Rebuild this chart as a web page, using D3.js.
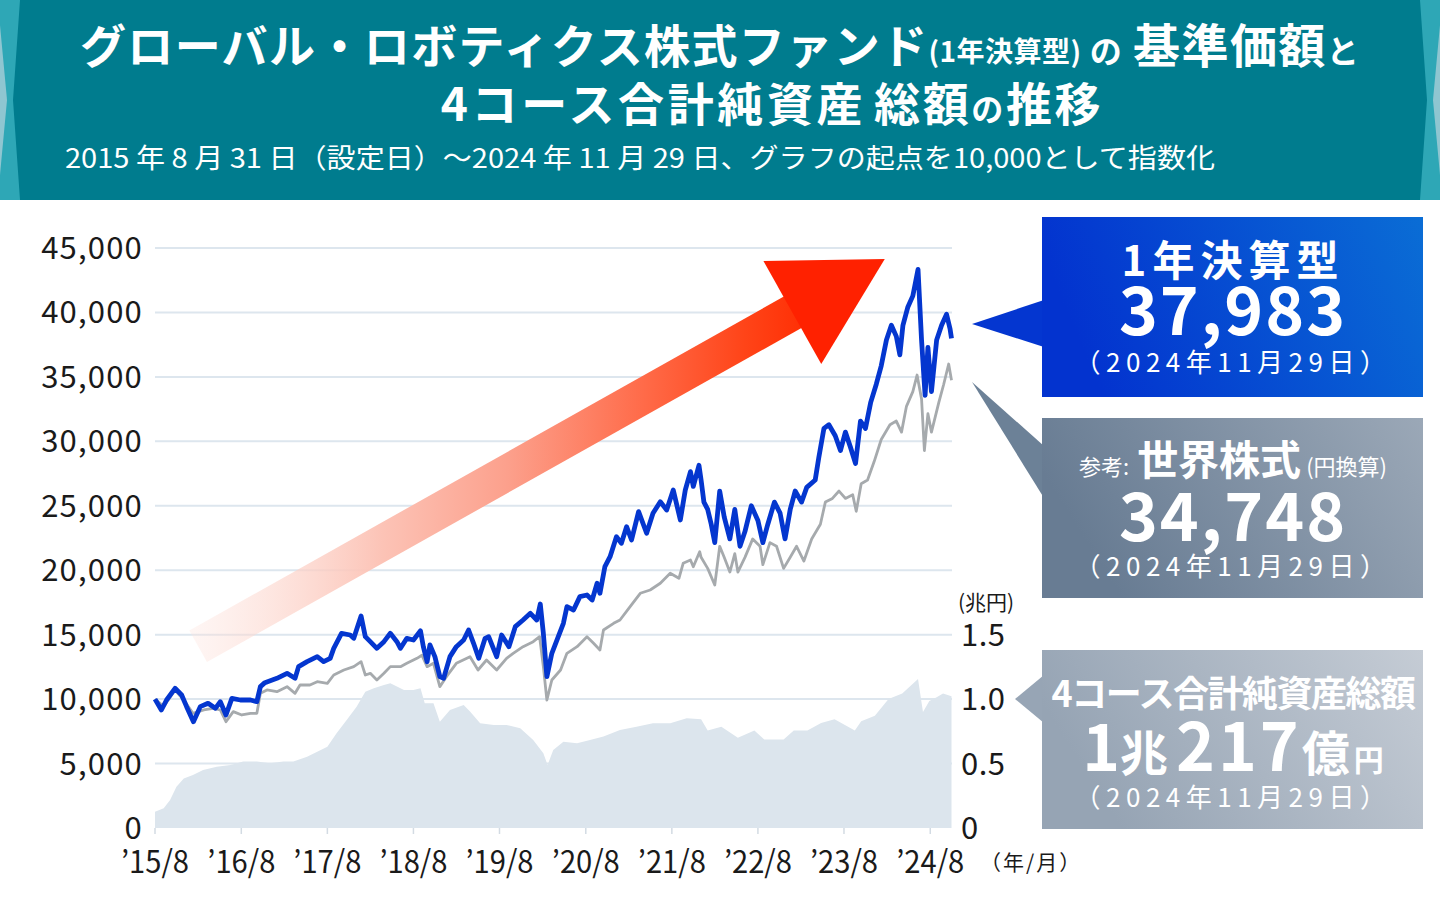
<!DOCTYPE html>
<html><head><meta charset="utf-8">
<script src="https://cdn.jsdelivr.net/npm/d3@7"></script>
<style>
html,body{margin:0;padding:0;background:#fff;}
svg{display:block;}
text{font-family:"Noto Sans CJK JP","Noto Sans",sans-serif;}
</style></head><body>
<svg id="chart" width="1440" height="900"></svg>
<script>
// ---------------- DATA ----------------
// month offsets from the launch date (2015-08-31)
const fundMonths = [0,0.9,1.6,2.8,3.7,4.4,5.35,6.3,7.4,8.4,9.1,9.9,10.7,11.9,13.3,14.2,14.7,15.3,17,18.4,19.5,20,21.2,22.6,23.5,24.4,24.9,26,27.2,27.7,28.7,29.3,30,30.9,31.9,32.8,33.7,34.2,35.1,36,37,37.4,37.9,38.3,39,39.7,40.2,41.1,42,43,43.7,44.4,45.1,46,46.5,47.6,48.3,49.3,50.2,51.3,52.3,53.2,53.7,54.1,54.6,55.3,56,56.9,57.4,58.3,59.2,60.2,60.9,61.6,62,62.7,63.4,64.3,65,65.7,66.4,67.4,68.5,69.4,70.4,71.3,72.2,73.2,73.9,74.6,75,75.8,76.1,76.5,77,77.5,78,78.7,79.3,80.1,80.8,81.5,82.2,83.1,84,84.7,85.4,86.3,87.1,87.8,88.5,89.2,90.1,90.8,92,92.5,93.2,93.9,94.8,95.5,96.2,96.9,97.6,98.3,99,99.7,100.5,101.2,101.9,102.6,103.3,103.8,104.2,104.9,105.6,106.3,106.8,107.3,107.7,108.2,108.9,109.6,110.3,110.8,110.98];
const fundValues = [10000,9156,9932,10839,10319,9414,8250,9414,9673,9285,9802,8768,10061,9932,9932,9802,10966,11276,11612,12000,11612,12518,12906,13294,12906,13164,13940,15104,14975,14716,16450,14845,14457,13940,14457,15104,14457,13940,14716,14587,15300,14070,12900,14199,13294,11742,11612,13294,14070,14587,15363,14328,13164,14716,14845,13294,14975,14070,15621,16139,16656,16139,17380,15104,11742,13553,14587,15880,17173,16915,17949,18079,17690,18986,18211,20275,21050,22602,22087,23378,22346,24542,22866,24418,25318,24674,26225,23898,26225,27646,26500,28143,27000,25286,24714,23571,22143,26143,24143,22429,24714,21857,23000,25000,23857,22143,23571,25286,24429,22429,24714,26143,25286,26429,27000,28714,31000,31286,30429,29286,30714,29571,28286,31571,31000,33000,34429,35857,37857,39000,38143,36714,39000,40429,41286,43343,37857,33571,37286,33857,37857,39000,39857,38714,37983];

const worldMonths = [0,1.2,2.8,4,5.3,6.8,8.1,9.1,9.9,10.9,12.1,13.3,14.2,14.7,15.6,17,18.4,19.5,20.2,21.6,22.6,24,24.9,26.3,27.7,28.7,29.3,30,30.9,31.9,32.8,34.2,35.1,36.5,37.2,37.9,38.8,39.7,40.6,42,43.9,45,46.2,47.6,49,49.9,51.3,52.7,53.6,54.1,54.6,55.3,56.5,57.4,58.8,60.2,61.1,62,62.5,63.9,64.8,66.2,67.6,69,70.4,71.8,73,73.6,74.6,75,75.9,76.1,77,78,78.7,79.3,80.1,80.8,81.2,82.2,83.3,84.3,84.7,85.7,86.6,87.6,88.5,89.4,90.4,91.5,92.7,93.4,94.4,95.3,96.2,97.2,97.7,98.4,99.3,100.2,101.2,102.4,103.3,104,104.7,105.6,106.2,106.8,107.2,107.7,108.2,109.2,109.9,110.6,110.98];
const worldValues = [10000,9414,10708,9932,8897,9156,9285,9156,8250,9026,8768,8897,8897,10449,10708,10578,10966,10449,11095,11095,11354,11225,11871,12259,12518,12906,11871,12000,11483,12000,12518,12518,12777,13164,13400,12518,12777,10966,11742,12777,13294,12259,13035,12259,13164,13553,14070,14457,14845,12518,9932,11483,12259,13553,14070,14845,14328,13811,15363,15880,16139,17173,18211,18467,18986,19762,19374,20537,20794,20275,21438,21000,20143,18857,21857,21000,19857,21286,19857,21000,22429,21857,20429,22143,21857,20143,21000,21857,20714,22429,23571,25286,25571,26143,25571,25857,24571,26714,27000,28429,30143,31286,31571,30714,32714,33857,35143,33286,29286,32143,30714,33000,34429,36000,34748];

// total net assets of the 4 courses (trillion yen)
const assetMonths = [0,1.2,2.1,3,4,5.3,6.7,8.6,10.5,12.3,14.2,16,17.9,19.3,21.2,22.6,24,25.3,26.7,28.1,29.3,30.5,31.9,32.8,34.7,36,37,37.6,38.8,39.7,41.1,43,43.9,45.3,47.2,49,50.9,52.7,54.1,54.7,55.5,56.9,58.8,60.6,62.5,64.8,67.1,69.4,71.8,74.1,76.1,77,78.9,81.2,83.5,84.9,87.6,89,90.9,92.8,94.7,97.5,98.4,100.3,102.2,104.1,106.3,107,107.9,108.9,109.8,110.98];
const assetValues = [0.126,0.153,0.217,0.321,0.385,0.411,0.45,0.476,0.489,0.515,0.515,0.502,0.515,0.515,0.553,0.592,0.631,0.735,0.838,0.941,1.058,1.084,1.11,1.123,1.071,1.071,1.084,0.967,0.967,0.825,0.916,0.954,0.903,0.812,0.799,0.799,0.773,0.683,0.579,0.489,0.605,0.67,0.657,0.683,0.709,0.76,0.786,0.812,0.812,0.851,0.843,0.757,0.786,0.70,0.757,0.686,0.686,0.757,0.757,0.814,0.843,0.757,0.829,0.871,1.0,1.043,1.157,0.90,0.986,1.014,1.043,1.022];

const leftTicks = [0,5000,10000,15000,20000,25000,30000,35000,40000,45000];
const rightTicks = [0,0.5,1.0,1.5];
const xTickYears = [2015,2016,2017,2018,2019,2020,2021,2022,2023,2024];
const xTickLabels = ["’15/8","’16/8","’17/8","’18/8","’19/8","’20/8","’21/8","’22/8","’23/8","’24/8"];

// ---------------- CHART ----------------
const svg = d3.select("#chart");
const startDate = new Date(2015, 7, 31);
const endDate = new Date(2024, 10, 29);
const toDate = m => { const d = d3.timeDay.offset(startDate, Math.round(m * 30.4375)); return d > endDate ? endDate : d; };

const x = d3.scaleTime().domain([startDate, endDate]).range([155, 951.5]);
const y = d3.scaleLinear().domain([0, 45000]).range([828, 248]);
const yR = d3.scaleLinear().domain([0, 4.5]).range([828, 248]);

const defs = svg.append("defs");
function grad(id, stops, x1, y1, x2, y2, units) {
  const g = defs.append("linearGradient").attr("id", id)
    .attr("x1", x1).attr("y1", y1).attr("x2", x2).attr("y2", y2);
  if (units) g.attr("gradientUnits", units);
  stops.forEach(s => g.append("stop").attr("offset", s[0]).attr("stop-color", s[1]).attr("stop-opacity", s[2] == null ? 1 : s[2]));
}
grad("gBox1", [[0, "#0333cf"], [1, "#0a6dd5"]], 0, 0.2, 1, 0);
grad("gBox2", [[0, "#687c93"], [1, "#9ba8b7"]], 0, 0.3, 1, 0);
grad("gBox3", [[0, "#96a4b4"], [1, "#c5ccd5"]], 0, 0.3, 1, 0);
grad("gArrow", [[0, "#fde3dd", 0.35], [0.3, "#fcc3b6", 1], [0.5, "#fca08c", 1], [0.72, "#ff6a48", 1], [0.88, "#ff4418", 1], [1, "#ff2a00", 1]], 195, 0, 820, 0, "userSpaceOnUse");

// header
svg.append("rect").attr("x", 0).attr("y", 0).attr("width", 1440).attr("height", 200).attr("fill", "#007c8e");
svg.append("polygon").attr("points", "0,0 20,0 13,100 20,200 0,200").attr("fill", "#2ea7b6");
svg.append("polygon").attr("points", "0,25 7,100 0,175").attr("fill", "#8fc6d1");
svg.append("polygon").attr("points", "1440,0 1420,0 1427,100 1420,200 1440,200").attr("fill", "#2ea7b6");
svg.append("polygon").attr("points", "1440,25 1433,100 1440,175").attr("fill", "#8fc6d1");

const t1 = svg.append("text").attr("x", 720).attr("y", 63).attr("text-anchor", "middle")
  .attr("fill", "#fff").attr("font-weight", 700).attr("letter-spacing", 1.4);
t1.append("tspan").attr("font-size", 46).text("グローバル・ロボティクス株式ファンド");
t1.append("tspan").attr("font-size", 28).attr("dy", -1).attr("letter-spacing", 0.5).text("(1年決算型)");
t1.append("tspan").attr("font-size", 32).attr("dx", 8).attr("dy", 1).text("の");
t1.append("tspan").attr("font-size", 47).attr("dx", 10).text("基準価額");
t1.append("tspan").attr("font-size", 32).text("と");

const t2 = svg.append("text").attr("x", 772).attr("y", 121).attr("text-anchor", "middle")
  .attr("fill", "#fff").attr("font-weight", 700).attr("letter-spacing", 2.6);
t2.append("tspan").attr("font-size", 46).attr("letter-spacing", 3.6).text("4コース合計純資産");
t2.append("tspan").attr("font-size", 46).attr("dx", 8).text("総額");
t2.append("tspan").attr("font-size", 32).text("の");
t2.append("tspan").attr("font-size", 46).text("推移");

svg.append("text").attr("x", 65).attr("y", 168).attr("fill", "#fff").attr("font-size", 27)
  .attr("textLength", 1150).attr("lengthAdjust", "spacingAndGlyphs")
  .text("2015 年 8 月 31 日（設定日）～2024 年 11 月 29 日、グラフの起点を10,000として指数化");

// grid
svg.append("g").selectAll("line").data(leftTicks.filter(d => d > 0)).join("line")
  .attr("x1", 155).attr("x2", 952).attr("y1", d => y(d)).attr("y2", d => y(d))
  .attr("stroke", "#dde6ee").attr("stroke-width", 2);

// area: net assets
const assetData = assetMonths.map((m, i) => ({ date: toDate(m), v: assetValues[i] }));
svg.append("path").datum(assetData)
  .attr("d", d3.area().x(d => x(d.date)).y0(yR(0)).y1(d => yR(d.v)))
  .attr("fill", "#dce5ed");

// x tick marks
svg.append("g").selectAll("line").data(xTickYears).join("line")
  .attr("x1", d => x(new Date(d, 7, 31))).attr("x2", d => x(new Date(d, 7, 31)))
  .attr("y1", 828).attr("y2", 834).attr("stroke", "#d3dbe3").attr("stroke-width", 1.5);

// world line
const worldData = worldMonths.map((m, i) => ({ date: toDate(m), v: worldValues[i] }));
svg.append("path").datum(worldData)
  .attr("d", d3.line().x(d => x(d.date)).y(d => y(d.v)))
  .attr("fill", "none").attr("stroke", "#a6aaad").attr("stroke-width", 2.8).attr("stroke-linejoin", "round");

// fund line
const fundData = fundMonths.map((m, i) => ({ date: toDate(m), v: fundValues[i] }));
svg.append("path").datum(fundData)
  .attr("d", d3.line().x(d => x(d.date)).y(d => y(d.v)))
  .attr("fill", "none").attr("stroke", "#0436cf").attr("stroke-width", 4.8).attr("stroke-linejoin", "round");

// big arrow (anchored through scales)
const aStart = [x(toDate(6)), y(14100)];
const aBase = [x(toDate(88.8)), y(40000)];
const aTip = [x(toDate(101.7)), y(44140)];
const dx = aBase[0] - aStart[0], dy = aBase[1] - aStart[1], L = Math.hypot(dx, dy);
const ux = dx / L, uy = dy / L, nx = -uy, ny = ux;
const hw = 18, hh = 59;
const shaft = [
  [aStart[0] - nx * hw, aStart[1] - ny * hw], [aBase[0] + ux * 8 - nx * hw, aBase[1] + uy * 8 - ny * hw],
  [aBase[0] + ux * 8 + nx * hw, aBase[1] + uy * 8 + ny * hw], [aStart[0] + nx * hw, aStart[1] + ny * hw]];
svg.append("polygon").attr("points", shaft.map(p => p.join(",")).join(" ")).attr("fill", "url(#gArrow)");
const head = [[aBase[0] - nx * hh, aBase[1] - ny * hh], aTip, [aBase[0] + nx * hh, aBase[1] + ny * hh]];
svg.append("polygon").attr("points", head.map(p => p.join(",")).join(" ")).attr("fill", "#ff2100");

// axes labels
svg.append("g").selectAll("text").data(leftTicks).join("text")
  .attr("x", 143).attr("y", d => y(d) + 11).attr("text-anchor", "end")
  .attr("font-family", "'Noto Sans',sans-serif").attr("font-size", 31).attr("letter-spacing", 1.2)
  .attr("fill", "#1a1a1a").text(d => d3.format(",")(d));
svg.append("g").selectAll("text").data(rightTicks).join("text")
  .attr("x", 961).attr("y", d => yR(d) + 11)
  .attr("font-family", "'Noto Sans',sans-serif").attr("font-size", 31).attr("letter-spacing", 0.5)
  .attr("fill", "#1a1a1a").text(d => d === 0 ? "0" : d3.format(".1f")(d));
svg.append("text").attr("x", 958).attr("y", 610).attr("font-size", 21).attr("fill", "#1a1a1a").text("(兆円)");
svg.append("g").selectAll("text").data(xTickYears).join("text")
  .attr("x", (d) => x(new Date(d, 7, 31))).attr("y", 873).attr("text-anchor", "middle")
  .attr("font-family", "'Noto Sans',sans-serif").attr("font-size", 31)
  .attr("textLength", 68).attr("lengthAdjust", "spacingAndGlyphs")
  .attr("fill", "#1a1a1a").text((d, i) => xTickLabels[i]);
svg.append("text").attr("x", 980).attr("y", 870).attr("font-size", 21).attr("letter-spacing", 2).attr("fill", "#1a1a1a").text("（年/月）");

// callout boxes
const bx = 1042, bw = 381;
svg.append("polygon").attr("points", "972,324 1044,300 1044,347").attr("fill", "#0436d0");
svg.append("rect").attr("x", bx).attr("y", 217).attr("width", bw).attr("height", 180).attr("fill", "url(#gBox1)");
svg.append("polygon").attr("points", "972,382 1044,446 1044,498").attr("fill", "#6c8197");
svg.append("rect").attr("x", bx).attr("y", 418).attr("width", bw).attr("height", 180).attr("fill", "url(#gBox2)");
svg.append("polygon").attr("points", "1015,699 1044,675 1044,723").attr("fill", "#97a5b5");
svg.append("rect").attr("x", bx).attr("y", 650).attr("width", bw).attr("height", 179).attr("fill", "url(#gBox3)");

const cx = 1233;
function ctext(yy, size, weight, ls, str) {
  return svg.append("text").attr("x", cx).attr("y", yy).attr("text-anchor", "middle").attr("fill", "#fff")
    .attr("font-size", size).attr("font-weight", weight).attr("letter-spacing", ls).text(str);
}
ctext(276, 42, 700, 6, "1年決算型");
ctext(335, 66, 700, 2, "37,983");
ctext(372, 26, 400, 5.5, "（2024年11月29日）");

const b2 = svg.append("text").attr("x", cx).attr("y", 475).attr("text-anchor", "middle").attr("fill", "#fff").attr("font-weight", 700);
b2.append("tspan").attr("font-size", 22).attr("font-weight", 400).text("参考:");
b2.append("tspan").attr("font-size", 41).attr("dx", 8).text("世界株式");
b2.append("tspan").attr("font-size", 22).attr("font-weight", 400).attr("dx", 5).text("(円換算)");
ctext(541, 66, 700, 2, "34,748");
ctext(576, 26, 400, 5.5, "（2024年11月29日）");

ctext(707, 36, 700, -1.5, "4コース合計純資産総額");
const b3 = svg.append("text").attr("x", cx).attr("y", 771).attr("text-anchor", "middle").attr("fill", "#fff").attr("font-weight", 700);
b3.append("tspan").attr("font-size", 64).text("1");
b3.append("tspan").attr("font-size", 48).text("兆");
b3.append("tspan").attr("font-size", 66).attr("dx", 8).attr("letter-spacing", 3).text("217");
b3.append("tspan").attr("font-size", 48).text("億");
b3.append("tspan").attr("font-size", 30).attr("dx", 4).text("円");
ctext(807, 26, 400, 5.5, "（2024年11月29日）");
</script>
</body></html>
